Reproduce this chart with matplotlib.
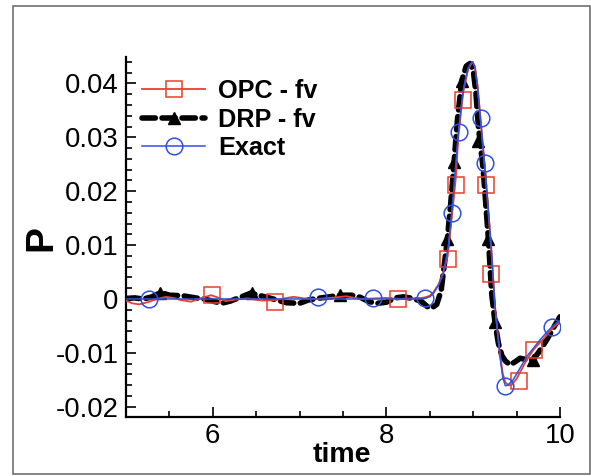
import matplotlib
matplotlib.use("Agg")
import matplotlib.pyplot as plt
from matplotlib.lines import Line2D
from matplotlib.patches import Rectangle
from matplotlib.ticker import MultipleLocator, FixedLocator, FixedFormatter

plt.rcParams['font.family'] = ['Liberation Sans', 'DejaVu Sans']
plt.rcParams['axes.unicode_minus'] = False

# ---------------- data ----------------
t_exact = [5.0, 8.0, 8.3, 8.4, 8.445, 8.5, 8.54, 8.6, 8.655, 8.713, 8.752, 8.79,
           8.828, 8.86, 8.886, 8.915, 8.944, 8.97, 8.994, 9.02, 9.05, 9.078, 9.12,
           9.162, 9.21, 9.251, 9.28, 9.309, 9.34, 9.37, 9.40, 9.46, 9.53, 9.616,
           9.70, 9.77, 9.84, 9.905, 9.98, 10.0]
p_exact = [0.0, 0.0, 0.0, 0.0, 0.0001, 0.0004, 0.0010, 0.0025, 0.0047, 0.0097,
           0.0159, 0.0233, 0.0307, 0.0355, 0.0387, 0.0412, 0.0428, 0.0437, 0.0440,
           0.0430, 0.0395, 0.0345, 0.0268, 0.0190, 0.0090, -0.0014, -0.0062,
           -0.0107, -0.0145, -0.0161, -0.0160, -0.0150, -0.0131, -0.0107, -0.0090,
           -0.0076, -0.0063, -0.0052, -0.0042, -0.0040]

t_opc = [5.0, 5.07, 5.15, 5.25, 5.36, 5.46, 5.55, 5.63, 5.75, 5.87, 5.98, 6.07,
         6.15, 6.27, 6.4, 6.57, 6.72, 6.82, 6.93, 7.05, 7.2, 7.35, 7.54, 7.7, 7.85,
         8.0, 8.15, 8.3, 8.4, 8.445, 8.5, 8.54, 8.6, 8.655, 8.706, 8.752, 8.80,
         8.828, 8.886, 8.944, 8.994, 9.02, 9.05, 9.078, 9.12, 9.147, 9.208, 9.251,
         9.28, 9.309, 9.34, 9.37, 9.41, 9.44, 9.50, 9.53, 9.616, 9.70, 9.81, 9.905,
         9.98, 10.0]
p_opc = [-0.0003, -0.0008, -0.0010, -0.0006, 0.0, 0.0004, 0.0002, -0.0002,
         -0.0005, 0.0002, 0.0007, 0.0002, -0.0004, -0.0001, 0.0001, -0.0003,
         -0.0002, 0.0001, 0.0004, 0.0001, 0.0, 0.0002, 0.0005, 0.0, 0.0001, 0.0002,
         0.0, 0.0001, 0.0002, 0.0003, 0.0006, 0.0012, 0.0027, 0.0049, 0.0080,
         0.0150, 0.0225, 0.0300, 0.0385, 0.0428, 0.0440, 0.0431, 0.0396, 0.0346,
         0.0270, 0.0220, 0.0093, -0.0012, -0.0060, -0.0103, -0.0138, -0.0155,
         -0.0160, -0.0160, -0.0148, -0.0139, -0.0113, -0.0093, -0.0074, -0.0056,
         -0.0045, -0.0043]

t_drp = [5.0, 5.1, 5.2, 5.3, 5.4, 5.5, 5.65, 5.8, 5.9, 6.0, 6.1, 6.2, 6.3, 6.44,
         6.55, 6.65, 6.74, 6.85, 7.0, 7.1, 7.2, 7.3, 7.47, 7.6, 7.7, 7.8, 7.9, 8.0,
         8.1, 8.2, 8.3, 8.4, 8.47, 8.52, 8.58, 8.63, 8.695, 8.74, 8.78, 8.82,
         8.868, 8.92, 8.963, 9.0, 9.03, 9.06, 9.116, 9.175, 9.213, 9.25, 9.29,
         9.33, 9.37, 9.424, 9.48, 9.54, 9.6, 9.685, 9.75, 9.85, 9.93, 10.0]
p_drp = [0.0001, 0.0002, 0.0, 0.0004, 0.0012, 0.0007, 0.0006, 0.0002, 0.0,
         -0.0004, -0.0008, -0.0004, 0.0002, 0.0011, 0.0006, 0.0002, -0.0002,
         -0.0007, -0.0008, -0.0002, 0.0001, 0.0003, 0.0007, 0.0007, 0.0003,
         -0.0005, -0.0008, -0.0006, 0.0002, 0.0004, 0.0001, -0.0004, -0.0014,
         -0.0017, -0.0010, 0.0015, 0.0100, 0.0175, 0.0254, 0.0335, 0.0405,
         0.0432, 0.0437, 0.0425, 0.0385, 0.0320, 0.0239, 0.0112, 0.0010, -0.0042,
         -0.0082, -0.0105, -0.0115, -0.0122, -0.0117, -0.0110, -0.0112, -0.0113,
         -0.0100, -0.0075, -0.0052, -0.0033]

# symbol positions
t_opc_mk = [5.99, 6.72, 8.13, 8.706, 8.80, 8.886, 9.147, 9.21, 9.53, 9.70]
p_opc_mk = [0.0007, -0.0006, 0.0, 0.0074, 0.0211, 0.0369, 0.0211, 0.0046, -0.0153, -0.0094]
t_drp_mk = [5.39, 6.45, 7.47, 8.695, 8.78, 8.868, 9.06, 9.175, 9.25, 9.685]
p_drp_mk = [0.0011, 0.0011, 0.0007, 0.0112, 0.0254, 0.0405, 0.0294, 0.0112, -0.0042, -0.0113]
t_exact_mk = [5.27, 7.215, 7.85, 8.445, 8.752, 8.836, 9.086, 9.136, 9.366, 9.905]
p_exact_mk = [0.0, 0.0003, 0.0001, 0.0001, 0.0159, 0.0309, 0.0336, 0.0253, -0.0162, -0.0052]

labels = ['OPC - fv', 'DRP - fv', 'Exact']
ytick_vals = [-0.02, -0.01, 0.0, 0.01, 0.02, 0.03, 0.04]
ytick_labels = ['-0.02', '-0.01', '0', '0.01', '0.02', '0.03', '0.04']
xtick_vals = [6, 8, 10]
xtick_labels = ['6', '8', '10']

# ---------------- styling ----------------
RED = '#e8402c'
BLUE = '#3050e0'
BLACK = 'black'
DRP_LW = 4.0
DRP_DASH = (2.4, 1.2)

W, H = 591, 476
fig = plt.figure(figsize=(W / 100, H / 100), dpi=100)
ax = fig.add_axes([126 / W, 1 - 417 / H, (560 - 126) / W, (417 - 57) / H])

# lines
ax.plot(t_drp, p_drp, color=BLACK, lw=DRP_LW, dashes=DRP_DASH,
        dash_capstyle='round', zorder=2)
ax.plot(t_opc, p_opc, color=RED, lw=1.3, zorder=3)
ax.plot(t_exact, p_exact, color=BLUE, lw=1.1, zorder=4)

# symbols
ax.plot(t_drp_mk, p_drp_mk, ls='none', marker='^', ms=8, mfc=BLACK, mec=BLACK, zorder=2.5)
ax.plot(t_opc_mk, p_opc_mk, ls='none', marker='s', ms=11, mfc='none', mec=RED, mew=1.1, zorder=3.5)
ax.plot(t_exact_mk, p_exact_mk, ls='none', marker='o', ms=12, mfc='none', mec=BLUE, mew=1.1, zorder=4.5)

ax.set_xlim(5, 10)
ax.set_ylim(-0.0219, 0.0449)

for side in ('top', 'right'):
    ax.spines[side].set_visible(False)
for side in ('left', 'bottom'):
    ax.spines[side].set_linewidth(1.6)

ax.xaxis.set_major_locator(FixedLocator(xtick_vals))
ax.xaxis.set_major_formatter(FixedFormatter(xtick_labels))
ax.xaxis.set_minor_locator(MultipleLocator(0.5))
ax.yaxis.set_major_locator(FixedLocator(ytick_vals))
ax.yaxis.set_major_formatter(FixedFormatter(ytick_labels))
ax.yaxis.set_minor_locator(MultipleLocator(0.002))

ax.tick_params(which='major', direction='in', length=7, width=1.2, labelsize=19.8)
ax.tick_params(which='minor', direction='in', length=4.3, width=1.2)
ax.tick_params(axis='y', which='major', pad=5.5)
ax.tick_params(axis='x', which='major', pad=4.0)

ax.set_xlabel('time', fontsize=20.5, fontweight='bold')
ax.xaxis.set_label_coords(342 / W, 1 - 462 / H, transform=fig.transFigure)
ax.xaxis.label.set_va('baseline')
ax.set_ylabel('P', fontsize=28, fontweight='bold')
ax.yaxis.set_label_coords(41 / W, 1 - 238 / H, transform=fig.transFigure)
ax.yaxis.label.set_va('center')

# legend
handles = [
    Line2D([], [], color=RED, lw=1.3, marker='s', ms=11, mfc='none', mec=RED, mew=1.1),
    Line2D([], [], color=BLACK, lw=DRP_LW, dashes=DRP_DASH, dash_capstyle='round',
           marker='^', ms=8, mfc=BLACK, mec=BLACK),
    Line2D([], [], color=BLUE, lw=1.1, marker='o', ms=12, mfc='none', mec=BLUE, mew=1.1),
]
leg = ax.legend(handles, labels, loc='upper left',
                bbox_to_anchor=(142 / W, 1 - 79 / H), bbox_transform=fig.transFigure,
                frameon=False, borderpad=0, borderaxespad=0, numpoints=1,
                handlelength=2.5, handletextpad=0.5, labelspacing=0.18,
                prop={'size': 18.2, 'weight': 'bold'})

# outer frame
fig.patches.append(Rectangle((12.5 / W, 2.5 / H), (590 - 12.5) / W, (473.5 - 5.5) / H,
                             transform=fig.transFigure, fill=False,
                             edgecolor='#707070', lw=1.2))

fig.savefig('out.png', dpi=100)
